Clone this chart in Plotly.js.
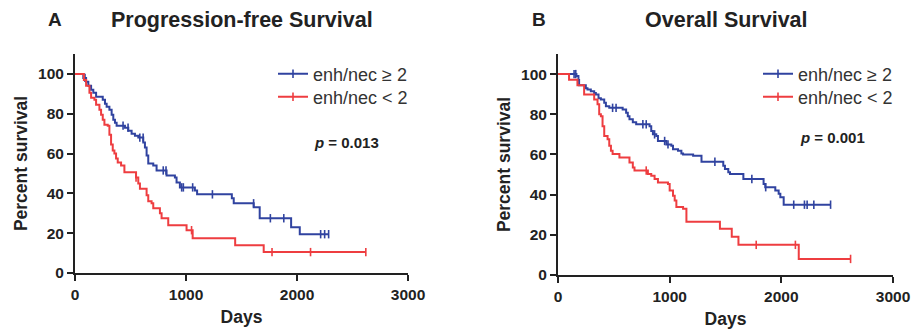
<!DOCTYPE html>
<html>
<head>
<meta charset="utf-8">
<script src="https://cdn.plot.ly/plotly-3.0.1.min.js"></script>
<style>html,body{margin:0;padding:0;background:#fff}#chart{width:920px;height:330px}</style>
</head>
<body>
<div id="chart"></div>
<script>
// ---- Data ----
// Panel A: Progression-free survival, enh/nec >= 2
const pfsHighDays = [0, 75, 100, 120, 145, 165, 190, 250, 270, 285, 310, 330, 345, 360, 375, 450, 480, 510, 540, 570, 615, 630, 645, 660, 705, 735, 825, 900, 915, 945, 1080, 1100, 1413, 1430, 1610, 1664, 1947, 2025, 2285];
const pfsHighSurv = [100, 98, 96, 94, 92, 90.5, 88.5, 87, 85, 83.5, 82, 79.5, 77, 75.5, 74, 73, 71.5, 70, 69, 68, 65.5, 63, 59, 55, 54, 51.5, 49, 48, 45.5, 43, 41.5, 39.5, 37.5, 35, 33, 27.5, 23, 19.5, 19.5];
const pfsHighCensored = [90, 433, 478, 584, 614, 795, 820, 961, 976, 1060, 1238, 1609, 1760, 1881, 2213, 2249, 2285];
// Panel A: enh/nec < 2
const pfsLowDays = [0, 80, 100, 130, 145, 175, 190, 220, 235, 250, 265, 295, 310, 325, 340, 355, 370, 385, 415, 445, 550, 570, 585, 645, 660, 690, 705, 765, 780, 840, 1005, 1060, 1443, 1700, 2620];
const pfsLowSurv = [100, 97, 94, 90.5, 88, 87, 84.5, 82, 79.5, 77, 74.5, 74, 69.5, 64.5, 61.5, 60, 57.5, 55.5, 54, 50.6, 48, 45, 42.3, 39, 36, 35, 32.5, 30, 27.5, 24, 21.5, 17.5, 14, 10.5, 10.5];
const pfsLowCensored = [550, 1050, 1775, 2122, 2620];

// Panel B: Overall survival, enh/nec >= 2
const osHighDays = [0, 165, 183, 189, 249, 264, 294, 324, 339, 363, 384, 414, 429, 459, 579, 610, 625, 640, 670, 700, 820, 835, 850, 880, 895, 970, 1015, 1030, 1075, 1105, 1120, 1210, 1285, 1480, 1495, 1525, 1540, 1660, 1841, 1856, 1946, 1976, 1991, 2021, 2441];
const osHighSurv = [100, 99, 97, 94.5, 93, 92.3, 91.4, 90.6, 89.8, 88, 87.3, 85.7, 84, 83.2, 82.4, 80.7, 79, 77.5, 76, 75, 74, 71.7, 70, 69.2, 66.7, 65, 64.3, 62.6, 61.8, 60.5, 60, 59.3, 56.4, 54.4, 52.7, 51.1, 50.3, 47.8, 45.3, 43.7, 42, 40.4, 38.7, 35, 35];
const osHighCensored = [144, 159, 489, 520, 760, 790, 865, 955, 985, 1405, 1736, 1860, 2111, 2207, 2231, 2291, 2441];
// Panel B: enh/nec < 2
const osLowDays = [0, 99, 174, 234, 324, 354, 369, 384, 399, 414, 444, 459, 474, 489, 550, 640, 670, 685, 805, 835, 865, 895, 985, 1000, 1030, 1045, 1060, 1120, 1150, 1450, 1556, 1616, 2156, 2620];
const osLowSurv = [100, 97.2, 94.5, 89.8, 87.3, 85, 80, 79, 74, 69.2, 67.6, 64.3, 61.8, 60.2, 58.5, 56, 53.5, 52, 50.3, 49.4, 47.8, 46.1, 45.3, 42, 39.5, 37.1, 33.8, 33, 26.5, 23, 19, 15, 8, 8];
const osLowCensored = [790, 1775, 2126, 2620];

const groupLabels = ['enh/nec \u2265 2', 'enh/nec < 2'];
const panelTitles = ['Progression-free Survival', 'Overall Survival'];
const panelLetters = ['A', 'B'];
const pValues = ['0.013', '0.001'];
const xTicks = [0, 1000, 2000, 3000];
const yTicks = [0, 20, 40, 60, 80, 100];

// ---- Styles ----
const BLUE = '#3043a0';
const RED = '#ee3d40';
const INK = '#222222';
const FONT = 'Liberation Sans, Arial, Helvetica, sans-serif';

function stepAt(T, S, t) {
  let v = S[0];
  for (let i = 0; i < T.length; i++) { if (T[i] <= t) v = S[i]; }
  return v;
}

const tickMarker = (color) => ({ symbol: 'line-ns-open', size: 6, color: color, line: { width: 1.6, color: color } });

function curveTraces(T, S, C, color, xa, ya, name, legendId) {
  return [
    { x: T, y: S, type: 'scatter', mode: 'lines', line: { shape: 'hv', color: color, width: 2 },
      xaxis: xa, yaxis: ya, showlegend: false, hoverinfo: 'skip' },
    { x: C, y: C.map(t => stepAt(T, S, t)), type: 'scatter', mode: 'markers',
      marker: tickMarker(color), xaxis: xa, yaxis: ya, showlegend: false, hoverinfo: 'skip' },
    { x: [null], y: [null], type: 'scatter', mode: 'lines+markers', name: name,
      line: { color: color, width: 2 }, marker: tickMarker(color),
      xaxis: xa, yaxis: ya, showlegend: true, legend: legendId }
  ];
}

const data = [].concat(
  curveTraces(pfsHighDays, pfsHighSurv, pfsHighCensored, BLUE, 'x', 'y', groupLabels[0], 'legend'),
  curveTraces(pfsLowDays, pfsLowSurv, pfsLowCensored, RED, 'x', 'y', groupLabels[1], 'legend2'),
  curveTraces(osHighDays, osHighSurv, osHighCensored, BLUE, 'x2', 'y2', groupLabels[0], 'legend3'),
  curveTraces(osLowDays, osLowSurv, osLowCensored, RED, 'x2', 'y2', groupLabels[1], 'legend4')
);

const tickFont = { family: FONT, size: 15.5, color: INK, weight: 'bold' };
const axTitleFont = { family: FONT, size: 17.5, color: INK, weight: 'bold' };

function xAxis(domain, anchor) {
  return { domain: domain, anchor: anchor, range: [0, 3000], tickvals: xTicks, ticktext: xTicks.map(String),
    showline: true, linewidth: 2, linecolor: INK, ticks: 'outside', ticklen: 6, tickwidth: 2, tickcolor: INK,
    showgrid: false, zeroline: false, tickfont: tickFont, automargin: false,
    title: { text: 'Days', font: axTitleFont, standoff: 9 } };
}
function yAxis(domain, anchor) {
  return { domain: domain, anchor: anchor, range: [0, 110], tickvals: yTicks, ticktext: yTicks.map(String),
    showline: true, linewidth: 2, linecolor: INK, ticks: 'outside', ticklen: 6, tickwidth: 2, tickcolor: INK,
    showgrid: false, zeroline: false, tickfont: tickFont, automargin: false,
    title: { text: 'Percent survival', font: axTitleFont, standoff: 6 } };
}

function legendBox(xpx, ypx) {
  return { x: xpx / 920, y: 1 - ypx / 330, xanchor: 'left', yanchor: 'middle', bgcolor: 'rgba(0,0,0,0)',
    font: { family: FONT, size: 18, color: '#333333' }, itemwidth: 30, tracegroupgap: 0 };
}

const ann = [];
const letterX = [55, 539];
const titleX = [241.5, 726];
const pX = [346, 832];
const pY = [142, 137];
for (let i = 0; i < 2; i++) {
  ann.push({ xref: 'paper', yref: 'paper', x: letterX[i] / 920, y: 1 - 20 / 330, text: '<b>' + panelLetters[i] + '</b>',
    showarrow: false, xanchor: 'center', yanchor: 'middle', font: { family: FONT, size: 19, color: INK } });
  ann.push({ xref: 'paper', yref: 'paper', x: titleX[i] / 920, y: 1 - 20 / 330, text: '<b>' + panelTitles[i] + '</b>',
    showarrow: false, xanchor: 'center', yanchor: 'middle', font: { family: FONT, size: 21.5, color: INK } });
  ann.push({ xref: 'paper', yref: 'paper', x: pX[i] / 920, y: 1 - pY[i] / 330, text: '<b><i>p</i> = ' + pValues[i] + '</b>',
    showarrow: false, xanchor: 'center', yanchor: 'middle', font: { family: FONT, size: 15, color: INK } });
}

const layout = {
  width: 920, height: 330,
  margin: { l: 0, r: 0, t: 0, b: 0 },
  paper_bgcolor: '#ffffff', plot_bgcolor: '#ffffff',
  font: { family: FONT, color: INK },
  showlegend: true,
  xaxis: xAxis([75 / 920, 408 / 920], 'y'),
  yaxis: yAxis([57 / 330, 276 / 330], 'x'),
  xaxis2: xAxis([558 / 920, 893 / 920], 'y2'),
  yaxis2: yAxis([55 / 330, 276 / 330], 'x2'),
  legend: legendBox(273, 74),
  legend2: legendBox(273, 97),
  legend3: legendBox(758, 74),
  legend4: legendBox(758, 97),
  annotations: ann
};

Plotly.newPlot('chart', data, layout, { displayModeBar: false, staticPlot: true });
</script>
</body>
</html>
